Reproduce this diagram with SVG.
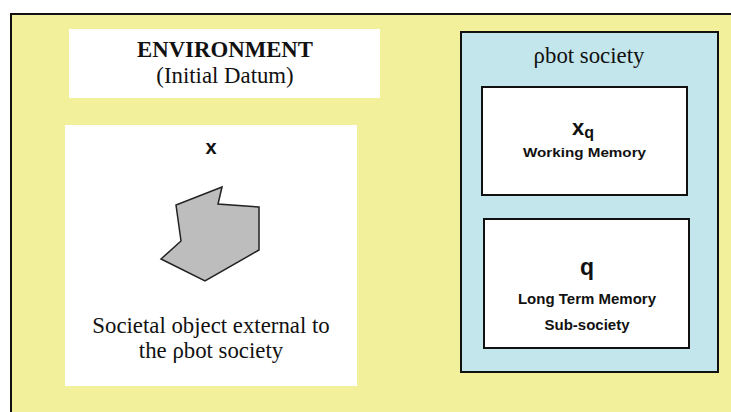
<svg xmlns="http://www.w3.org/2000/svg" width="731" height="412" viewBox="0 0 731 412">
<style>
.serif{font-family:"Liberation Serif","Times New Roman",serif;fill:#111;font-size:22.8px}
.sans{font-family:"Liberation Sans",Arial,sans-serif;font-weight:bold;fill:#111}
.box{fill:#fff;stroke:#111;stroke-width:2}
</style>
<rect x="0" y="0" width="731" height="412" fill="#fff"/>
<g id="environment-frame">
<rect x="11" y="14" width="730" height="410" fill="#F2F09A" stroke="#111" stroke-width="2"/>
</g>
<g id="environment-title">
<rect x="69" y="29" width="311" height="69" fill="#fff"/>
<text class="serif" x="225" y="57" font-weight="bold" text-anchor="middle">ENVIRONMENT</text>
<text class="serif" x="225" y="83" text-anchor="middle">(Initial Datum)</text>
</g>
<g id="external-object">
<rect x="65" y="125" width="292" height="261" fill="#fff"/>
<text class="sans" x="211" y="154" font-size="20" text-anchor="middle">x</text>
<polygon points="222,187 218,204 259,207 259,250 205,281 161,259 181,241 176,205" fill="#BDBDBD" stroke="#222" stroke-width="1.5"/>
<text class="serif" x="211" y="333" text-anchor="middle">Societal object external to</text>
<text class="serif" x="211" y="358" text-anchor="middle">the ρbot society</text>
</g>
<g id="rbot-society">
<rect x="461" y="32" width="257" height="340" fill="#C3E6EC" stroke="#111" stroke-width="2"/>
<text class="serif" x="589" y="63" font-size="23.5" text-anchor="middle">ρbot society</text>
</g>
<g id="working-memory">
<rect class="box" x="482" y="87" width="205" height="108"/>
<text class="sans" x="583" y="135" font-size="22" text-anchor="middle">x<tspan font-size="16" dy="3">q</tspan></text>
<text class="sans" x="584.5" y="157" font-size="13" text-anchor="middle" textLength="123" lengthAdjust="spacingAndGlyphs">Working Memory</text>
</g>
<g id="long-term-memory">
<rect class="box" x="484" y="219" width="205" height="129"/>
<text class="sans" x="587" y="275" font-size="23" text-anchor="middle">q</text>
<text class="sans" x="587" y="304" font-size="15" text-anchor="middle">Long Term Memory</text>
<text class="sans" x="587" y="330" font-size="15" text-anchor="middle">Sub-society</text>
</g>
<g id="connectors"></g>
</svg>
